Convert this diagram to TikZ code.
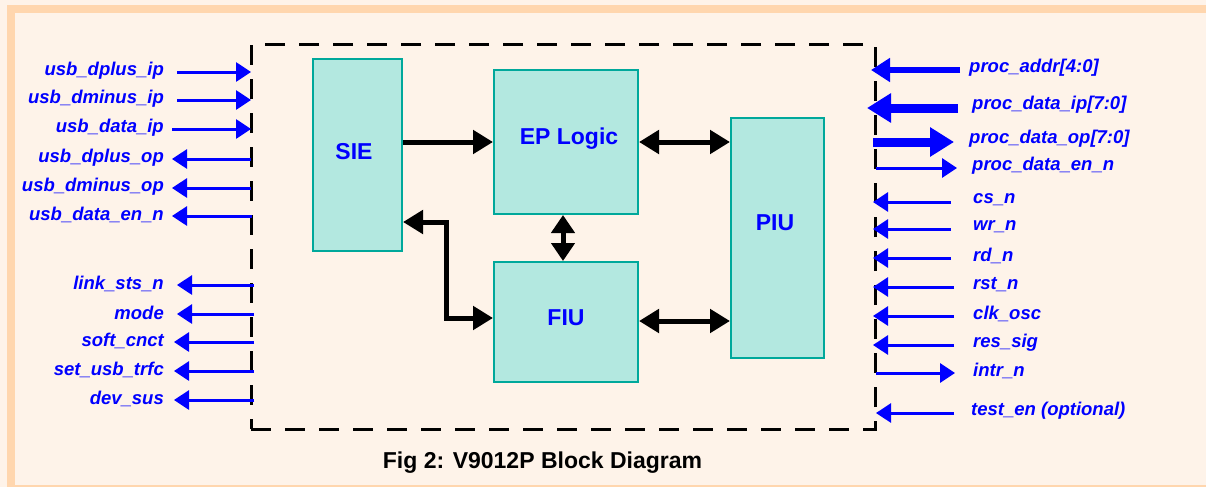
\documentclass[tikz,border=0pt]{standalone}
\usepackage{fontspec}
\setmainfont{Liberation Sans}
\usetikzlibrary{arrows.meta}
\definecolor{cream}{RGB}{254,243,233}
\definecolor{band}{RGB}{255,214,174}
\definecolor{blockfill}{RGB}{179,232,224}
\definecolor{blockdraw}{RGB}{0,168,155}
\definecolor{sigblue}{RGB}{0,0,255}
\begin{document}
\begin{tikzpicture}[x=1pt,y=-1pt,
  lab/.style={inner sep=0pt, text=sigblue, font=\fontsize{18.5}{20}\selectfont\bfseries\itshape},
  blocktext/.style={inner sep=0pt, text=sigblue, font=\fontsize{23}{26}\selectfont\bfseries},
  block/.style={draw=blockdraw, fill=blockfill, line width=2pt, inner sep=0pt},
  chipbox/.style={draw=black, line width=3pt, dash pattern=on 20pt off 14pt, inner sep=0pt},
  sig/.style={draw=sigblue, line width=3pt, -{Triangle[length=15pt,width=19pt]}},
  busa/.style={draw=sigblue, line width=6pt, -{Triangle[length=19pt,width=23pt]}},
  busb/.style={draw=sigblue, line width=9pt, -{Triangle[length=24pt,width=28pt]}},
  link/.style={draw=black, line width=5pt, -{Triangle[length=20pt,width=23pt]}},
  dlink/.style={draw=black, line width=5pt, {Triangle[length=20pt,width=23pt]}-{Triangle[length=20pt,width=23pt]}},
  vlink/.style={draw=black, line width=5pt, {Triangle[length=18pt,width=23pt]}-{Triangle[length=18pt,width=23pt]}}
]
\useasboundingbox (0,0) rectangle (1206,487);
\fill[cream] (0,0) rectangle (1206,487);
\fill[band] (7,5) rectangle (1206,13);
\fill[band] (7,5) rectangle (15,487);
\fill[band] (7,485) rectangle (1206,487);

% chip boundary
\node[chipbox, minimum width=624pt, minimum height=384pt] (chip) at (563,237) {};

% blocks
\node[block, minimum width=89pt, minimum height=192pt] (sie) at (357.5,155) {};
\node[block, minimum width=144pt, minimum height=144pt] (ep) at (566,142) {};
\node[block, minimum width=144pt, minimum height=120pt] (fiu) at (566,322) {};
\node[block, minimum width=93pt, minimum height=240pt] (piu) at (777.5,238) {};
\node[blocktext] (sielbl) at (354,152) {SIE};
\node[blocktext] (eplbl) at (569,139) {EP Logic};
\node[blocktext] (fiulbl) at (566,318) {FIU};
\node[blocktext] (piulbl) at (775,223) {PIU};

% internal connections
\draw[link] (sie.east |- 0,142) -- (ep.west |- 0,142);
\draw[dlink] (ep.east |- 0,142) -- (piu.west |- 0,142);
\draw[dlink] (fiu.east |- 0,321) -- (piu.west |- 0,321);
\draw[vlink] (ep.south -| 563,0) -- (fiu.north -| 563,0);
\coordinate (bendA) at (446,222);
\coordinate (bendB) at (446,318);
\draw[dlink] (sie.east |- 0,222) -- (bendA) -- (bendB) -- (fiu.west |- 0,318);

% left inputs
\foreach \i/\y/\s/\txt in {1/72/177/usb\_dplus\_ip, 2/100/177/usb\_dminus\_ip, 3/129/172/usb\_data\_ip}{
  \node[lab, anchor=east] (li\i) at (164,\y-1) {\txt};
  \coordinate (lis\i) at (\s,\y);
  \coordinate (lie\i) at (251,\y);
  \draw[sig] (lis\i) -- (lie\i);
}
% left outputs
\foreach \i/\y/\s/\t/\txt in {1/159/251/172/usb\_dplus\_op, 2/188/251/172/usb\_dminus\_op, 3/216/252/172/usb\_data\_en\_n,
  4/285/254/177/link\_sts\_n, 5/314/254/177/mode, 6/342/254/174/soft\_cnct, 7/371/254/174/set\_usb\_trfc, 8/400/254/174/dev\_sus}{
  \node[lab, anchor=east] (lo\i) at (164,\y-1) {\txt};
  \coordinate (los\i) at (\s,\y);
  \coordinate (loe\i) at (\t,\y);
  \draw[sig] (los\i) -- (loe\i);
}

% right side buses
\node[lab, anchor=west] (ra) at (969,68) {proc\_addr[4:0]};
\coordinate (ras) at (960,70); \coordinate (rae) at (871,70);
\draw[busa] (ras) -- (rae);
\node[lab, anchor=west] (rb) at (972,105) {proc\_data\_ip[7:0]};
\coordinate (rbs) at (958,108); \coordinate (rbe) at (867,108);
\draw[busb] (rbs) -- (rbe);
\node[lab, anchor=west] (rc) at (969,139) {proc\_data\_op[7:0]};
\coordinate (rcs) at (873,142); \coordinate (rce) at (954,142);
\draw[busb] (rcs) -- (rce);
\node[lab, anchor=west] (rd) at (972,166) {proc\_data\_en\_n};
\coordinate (rds) at (876,168); \coordinate (rde) at (957,168);
\draw[sig] (rds) -- (rde);

% right inputs
\foreach \i/\y/\s/\txt in {1/202/951/cs\_n, 2/229/951/wr\_n, 3/258/951/rd\_n, 4/287/954/rst\_n, 5/316/954/clk\_osc, 6/345/954/res\_sig}{
  \node[lab, anchor=west] (ri\i) at (973,\y-2) {\txt};
  \coordinate (ris\i) at (\s,\y);
  \coordinate (rie\i) at (873,\y);
  \draw[sig] (ris\i) -- (rie\i);
}
\node[lab, anchor=west] (rintr) at (973,371) {intr\_n};
\coordinate (rintrs) at (876,373); \coordinate (rintre) at (955,373);
\draw[sig] (rintrs) -- (rintre);
\node[lab, anchor=west] (rtest) at (971,411) {test\_en (optional)};
\coordinate (rtests) at (954,413); \coordinate (rteste) at (876,413);
\draw[sig] (rtests) -- (rteste);

% caption
\node[inner sep=0pt, font=\fontsize{23}{26}\selectfont\bfseries] (caption) at (542.5,463) {Fig 2: V9012P Block Diagram};
\end{tikzpicture}
\end{document}
